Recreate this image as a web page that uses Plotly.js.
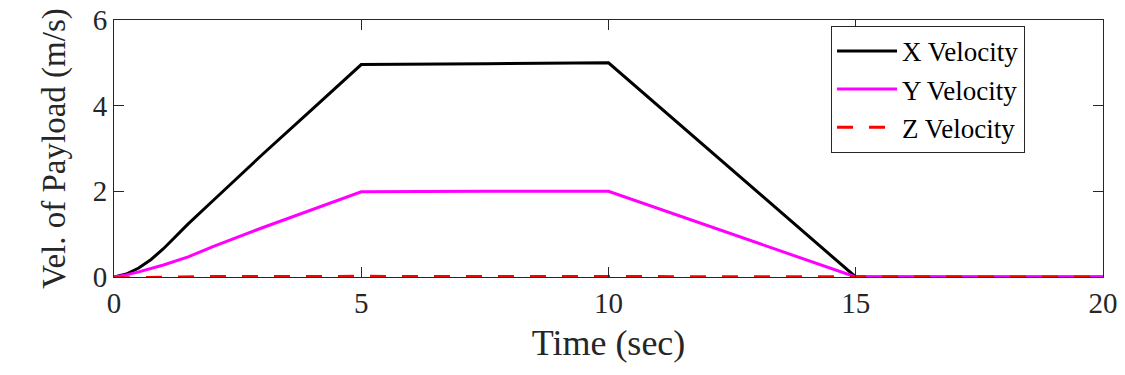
<!DOCTYPE html>
<html><head><meta charset="utf-8">
<script src="https://cdn.plot.ly/plotly-3.0.1.min.js"></script>
<style>html,body{margin:0;padding:0;background:#fff}#chart{width:1125px;height:375px}</style>
</head><body><div id="chart"></div>
<script>
const timeX = [0, 0.25, 0.5, 0.75, 1, 1.25, 1.5, 2, 3, 4, 5, 7.5, 10, 15, 20];
const xVel  = [0, 0.07, 0.21, 0.41, 0.66, 0.95, 1.24, 1.78, 2.86, 3.91, 4.96, 4.98, 5.0, 0, 0];
const timeY = [0, 0.25, 0.5, 1, 1.5, 2, 3, 4, 5, 7.5, 10, 15, 20];
const yVel  = [0, 0.05, 0.12, 0.28, 0.47, 0.71, 1.15, 1.57, 1.99, 2.0, 2.0, 0, 0];
const timeZ = [0, 0.5, 1, 2, 5, 10, 15, 20];
const zVel  = [-0.02, -0.01, 0.0, 0.01, 0.015, 0.015, 0.0, 0.0];
const xTicks = [0, 5, 10, 15, 20];
const yTicks = [0, 2, 4, 6];

const font = '"Liberation Serif", "Times New Roman", serif';
const traces = [
  {x: timeX, y: xVel, name: 'X Velocity', mode: 'lines', line: {color: '#000000', width: 3}},
  {x: timeY, y: yVel, name: 'Y Velocity', mode: 'lines', line: {color: '#ff00ff', width: 3}},
  {x: timeZ, y: zVel, name: 'Z Velocity', mode: 'lines', line: {color: '#ff0000', width: 3, dash: '16px,16px'}}
];
const axisCommon = {
  showgrid: false, zeroline: false, showline: true, mirror: 'ticks',
  linecolor: '#262626', linewidth: 1, ticks: 'inside', ticklen: 10, tickcolor: '#262626',
  tickfont: {family: font, size: 29, color: '#262626'}
};
const layout = {
  width: 1125, height: 375,
  margin: {l: 114, r: 22, t: 20, b: 98},
  paper_bgcolor: '#ffffff', plot_bgcolor: '#ffffff',
  showlegend: true,
  legend: {x: 0.725, y: 0.977, xanchor: 'left', yanchor: 'top',
    bordercolor: '#262626', borderwidth: 1, bgcolor: '#ffffff',
    font: {family: font, size: 27, color: '#000000'}, tracegroupgap: 0, itemwidth: 60},
  xaxis: Object.assign({}, axisCommon, {range: [0, 20], tickvals: xTicks, ticktext: xTicks.map(String),
    title: {text: 'Time (sec)', font: {family: font, size: 36, color: '#262626'}, standoff: 12}}),
  yaxis: Object.assign({}, axisCommon, {range: [0, 6], tickvals: yTicks, ticktext: yTicks.map(String),
    title: {text: 'Vel. of Payload (m/s)', font: {family: font, size: 33, color: '#262626'}, standoff: 17}})
};
Plotly.newPlot('chart', traces, layout, {displayModeBar: false, staticPlot: true});
</script></body></html>
